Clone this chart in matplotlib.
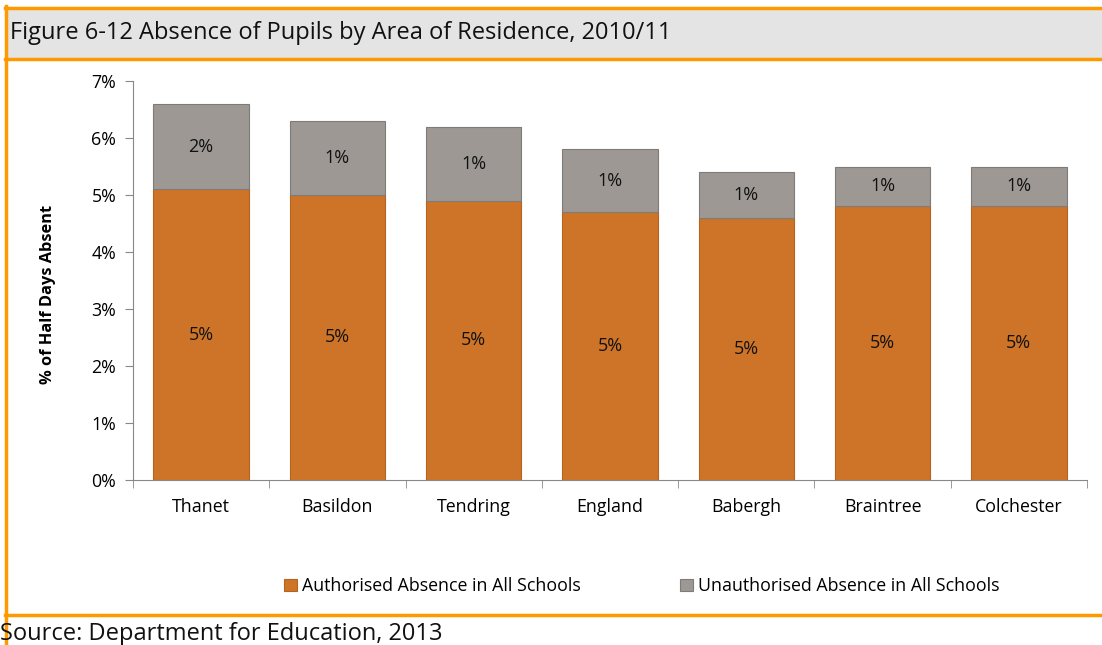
import matplotlib.pyplot as plt
from matplotlib.patches import Rectangle
from matplotlib.lines import Line2D
import numpy as np

plt.rcParams['font.family'] = ['Open Sans', 'DejaVu Sans']

# Data (% of half days absent)
areas = ['Thanet', 'Basildon', 'Tendring', 'England', 'Babergh', 'Braintree', 'Colchester']
authorised = [5.1, 5.0, 4.9, 4.7, 4.6, 4.8, 4.8]
unauthorised = [1.5, 1.3, 1.3, 1.1, 0.8, 0.7, 0.7]

orange = '#CE7428'
grey = '#9D9893'
border = '#FF9900'

W, H = 1102, 645
fig = plt.figure(figsize=(W / 100, H / 100), dpi=100)

# frame: title band and orange rules (figure pixel coords -> fractions)
def fx(x):
    return x / W

def fy(y):
    return 1 - y / H

fig.patches.append(Rectangle((fx(6), fy(58)), fx(1102 - 6), (49) / H,
                             transform=fig.transFigure, facecolor='#E4E4E4', edgecolor='none'))
for y in (7.5, 58.5, 615):
    fig.lines.append(Line2D([fx(5), 1], [fy(y), fy(y)], transform=fig.transFigure,
                            color=border, lw=2.5))
fig.lines.append(Line2D([fx(6), fx(6)], [fy(6), 0], transform=fig.transFigure,
                        color=border, lw=2.5))

fig.text(fx(10), fy(33), 'Figure 6-12 Absence of Pupils by Area of Residence, 2010/11',
         fontsize=17, va='center', ha='left', color='#111111')
fig.text(fx(0), fy(634), 'Source: Department for Education, 2013',
         fontsize=17, va='center', ha='left', color='#111111')

ax = fig.add_axes([fx(133), fy(480), fx(1087 - 133), (480 - 81) / H])
x = np.arange(len(areas))
b1 = ax.bar(x, authorised, width=0.7, color=orange, edgecolor='#B5631F', linewidth=0.8,
            label='Authorised Absence in All Schools')
b2 = ax.bar(x, unauthorised, width=0.7, bottom=authorised, color=grey, edgecolor='#7F7B77',
            linewidth=0.8, label='Unauthorised Absence in All Schools')
ax.bar_label(b1, fmt='{:.0f}%', label_type='center', fontsize=13, color='#111111')
ax.bar_label(b2, fmt='{:.0f}%', label_type='center', fontsize=13, color='#111111')

ax.set_xlim(-0.5, len(areas) - 0.5)
ax.set_ylim(0, 7)
ax.set_yticks(range(0, 8))
ax.set_yticklabels([f'{v}%' for v in range(0, 8)])
ax.set_xticks(x)
ax.set_xticklabels(areas)
ax.set_xticks(np.arange(-0.5, len(areas)), minor=True)
ax.tick_params(axis='x', which='major', length=0, pad=13, labelsize=12.8)
ax.tick_params(axis='x', which='minor', length=6, color='#888888', direction='out')
ax.tick_params(axis='y', length=6, color='#888888', labelsize=12.8, pad=6)
for s in ('top', 'right'):
    ax.spines[s].set_visible(False)
for s in ('left', 'bottom'):
    ax.spines[s].set_color('#888888')
ax.set_ylabel('% of Half Days Absent', fontsize=11.8, fontweight='bold')
ax.yaxis.set_label_coords(-0.081, 0.465)

fig.legend(handles=[b1, b2], loc='center', bbox_to_anchor=(fx(642), fy(586)), ncol=2,
           frameon=False, fontsize=12.8, handlelength=0.7, handleheight=0.7,
           handletextpad=0.3, columnspacing=5.6)

fig.savefig('out.png', dpi=100)
